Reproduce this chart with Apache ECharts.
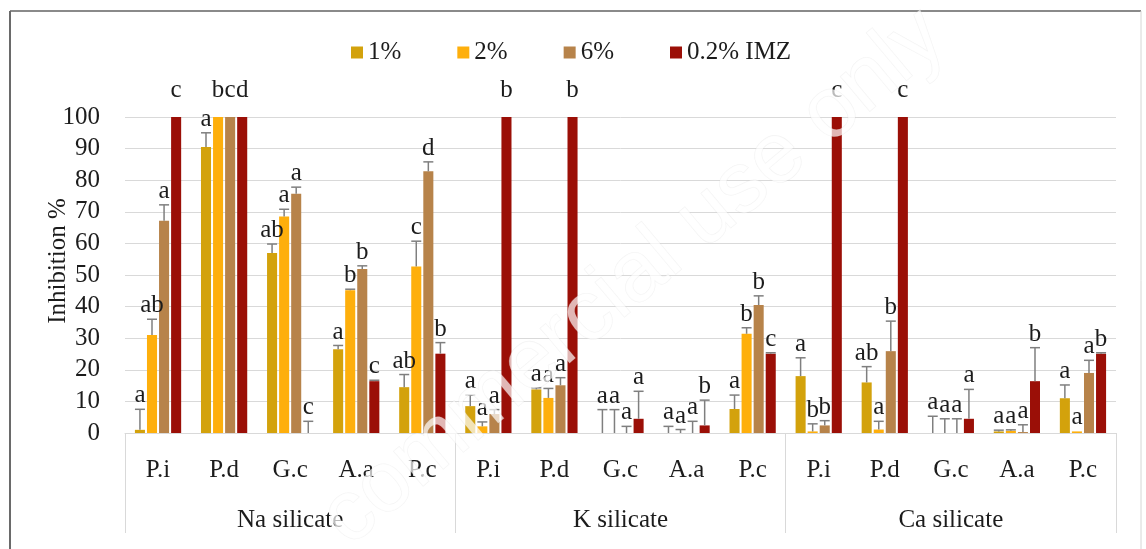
<!DOCTYPE html>
<html>
<head>
<meta charset="utf-8">
<script src="https://cdn.jsdelivr.net/npm/echarts@6/dist/echarts.min.js"></script>
<style>
  html, body { margin: 0; padding: 0; background: #fff; }
  #chart { width: 1146px; height: 549px; }
</style>
</head>
<body>
<div id="chart"></div>
<script>
// Fungi (short names) tested under each silicate salt
const fungi = ['P.i', 'P.d', 'G.c', 'A.a', 'P.c'];
const salts = ['Na silicate', 'K silicate', 'Ca silicate'];
const seriesNames = ['1%', '2%', '6%', '0.2% IMZ'];

// Mean inhibition (%) per treatment: Na (5), K (5), Ca (5)
const inhib1 = [1, 90.5, 57, 26.5, 14.5,   8.5, 13.8, 0, 0, 7.6,     18, 16, 0, 0.5, 11];
const inhib2 = [31, 100, 68.5, 45.2, 52.7, 2.1, 11.1, 0, 0, 31.4,    0.5, 1.1, 0, 0.7, 0.5];
const inhib6 = [67.2, 100, 75.7, 51.9, 82.8, 6, 15.1, 0, 0, 40.5,    2.4, 25.9, 0, 0.3, 19];
const inhibImz = [100, 100, 0, 16.4, 25.1, 100, 100, 4.5, 2.4, 25.1, 100, 100, 4.5, 16.4, 25.1];

// Standard error per treatment
const err1 = [6.5, 4.5, 2.8, 1.2, 4,  3.5, 0.5, 7.4, 2.1, 4.4,  5.8, 5, 5.3, 0.4, 4.2];
const err2 = [5, 4, 2.3, 0.3, 8,      1.4, 3, 7.4, 1.1, 1.9,    2.4, 2.6, 4.5, 0.3, 0];
const err6 = [5, 4, 2.1, 1, 3,        1.4, 2.4, 2.1, 3.7, 2.9,  1.5, 9.5, 4.5, 2.3, 4];
const errImz = [4, 4, 3.7, 0.3, 3.5,  4, 4, 8.7, 8, 0.3,        4, 4, 9.3, 10.6, 0.3];

// Significance letters
const sig1 = ['a', 'a', 'ab', 'a', 'ab',  'a', 'a', 'a', 'a', 'a',  'a', 'ab', 'a', 'a', 'a'];
const sig2 = ['ab', 'b', 'a', 'b', 'c',   'a', 'a', 'a', 'a', 'b',  'b', 'a', 'a', 'a', 'a'];
const sig6 = ['a', 'c', 'a', 'b', 'd',    'a', 'a', 'a', 'a', 'b',  'b', 'b', 'a', 'a', 'a'];
const sigImz = ['c', 'd', 'c', 'c', 'b',  'b', 'b', 'a', 'b', 'c',  'c', 'c', 'a', 'b', 'b'];

const yTicks = { min: 0, max: 100, interval: 10 };

const colors = ['#D3A20C', '#FEAF0C', '#B7834A', '#9B0F07'];
const FONT = '"Liberation Serif", "Times New Roman", serif';
const TEXT = '#1c1c1c';
const GRID_COLOR = '#d9d9d9';
const CAT_GAP = 0.30;
const BAR_GAP = 0.20;

const categories = [];
salts.forEach(() => fungi.forEach(f => categories.push(f)));

const values = [inhib1, inhib2, inhib6, inhibImz];
const errors = [err1, err2, err6, errImz];
const letters = [sig1, sig2, sig6, sigImz];

// one error-bar item per bar
const errItems = [];
values.forEach((vals, s) => {
  vals.forEach((v, c) => {
    errItems.push({ value: [c, s, v, errors[s][c]], letter: letters[s][c] });
  });
});

const chart = echarts.init(document.getElementById('chart'), null, { renderer: 'canvas' });

const barSeries = seriesNames.map((name, s) => ({
  name,
  type: 'bar',
  xAxisIndex: 0,
  data: values[s],
  itemStyle: { color: colors[s] },
  barCategoryGap: (CAT_GAP * 100) + '%',
  barGap: (BAR_GAP * 100) + '%',
  z: 2
}));

const errorSeries = {
  type: 'custom',
  xAxisIndex: 0,
  clip: false,
  silent: true,
  z: 5,
  data: errItems,
  renderItem(params, api) {
    const cat = api.value(0), s = api.value(1), v = api.value(2), e = api.value(3);
    const n = seriesNames.length;
    const band = api.size([1, 0])[0];
    const usable = band * (1 - CAT_GAP);
    const bw = usable / (n + (n - 1) * BAR_GAP);
    const x = api.coord([cat, 0])[0] - usable / 2 + s * bw * (1 + BAR_GAP) + bw / 2;
    const yBar = api.coord([cat, v])[1];
    const shown = Math.min(v + e, yTicks.max);
    const yCap = api.coord([cat, shown])[1];
    const yLab = api.coord([cat, v + e])[1];
    const children = [];
    if (v + e > v && v < yTicks.max) {
      const lineStyle = { stroke: '#7f7f7f', lineWidth: 1.5 };
      children.push({ type: 'line', shape: { x1: x, y1: yBar, x2: x, y2: yCap }, style: lineStyle });
      if (v + e <= yTicks.max) {
        children.push({ type: 'line', shape: { x1: x - 5, y1: yCap, x2: x + 5, y2: yCap }, style: lineStyle });
      }
    }
    children.push({
      type: 'text',
      x: x,
      y: yLab - 1,
      style: {
        text: errItems[params.dataIndex].letter,
        font: '25px ' + FONT,
        fill: TEXT,
        textAlign: 'center',
        textVerticalAlign: 'bottom'
      }
    });
    return { type: 'group', children };
  }
};

const option = {
  backgroundColor: '#ffffff',
  animation: false,
  legend: {
    data: seriesNames,
    left: 346,
    top: 35,
    itemWidth: 12,
    itemHeight: 12,
    itemGap: 56,
    icon: 'rect',
    textStyle: { fontFamily: FONT, fontSize: 25, color: TEXT }
  },
  grid: { left: 125, right: 30, top: 117, bottom: 116 },
  xAxis: [
    {
      type: 'category',
      data: categories,
      position: 'bottom',
      axisLine: { show: true, lineStyle: { color: GRID_COLOR, width: 1 } },
      axisTick: { show: false },
      axisLabel: { interval: 0, margin: 25, fontFamily: FONT, fontSize: 25, color: TEXT }
    },
    {
      type: 'category',
      data: salts,
      position: 'bottom',
      axisLine: { show: false },
      axisTick: { show: true, length: 100, lineStyle: { color: GRID_COLOR, width: 1 } },
      axisLabel: { interval: 0, margin: 75, fontFamily: FONT, fontSize: 25, color: TEXT },
      splitLine: { show: false }
    }
  ],
  yAxis: {
    type: 'value',
    min: yTicks.min,
    max: yTicks.max,
    interval: yTicks.interval,
    name: 'Inhibition %',
    nameLocation: 'middle',
    nameGap: 54,
    nameRotate: 90,
    nameMoveOverlap: false,
    nameTextStyle: { fontFamily: FONT, fontSize: 25, color: TEXT, padding: [0, 0, 0, 28] },
    axisLine: { show: false },
    axisTick: { show: false },
    axisLabel: { margin: 25, fontFamily: FONT, fontSize: 25, color: TEXT },
    splitLine: { show: true, lineStyle: { color: GRID_COLOR, width: 1 } }
  },
  series: [...barSeries, errorSeries],
  graphic: [
    // chart frame
    { type: 'line', shape: { x1: 10, y1: 11, x2: 1141, y2: 11 }, style: { stroke: '#8a8a8a', lineWidth: 2 }, z: 10 },
    { type: 'line', shape: { x1: 10, y1: 11, x2: 10, y2: 560 }, style: { stroke: '#6a6a6a', lineWidth: 2 }, z: 10 },
    { type: 'line', shape: { x1: 1141, y1: 11, x2: 1141, y2: 560 }, style: { stroke: '#d6d6d6', lineWidth: 1 }, z: 10 },
    // diagonal watermark
    {
      type: 'text',
      x: 634,
      y: 278,
      rotation: 40 * Math.PI / 180,
      z: 100,
      silent: true,
      style: {
        text: 'commercial use only',
        font: '86px "Liberation Sans", Arial, sans-serif',
        fill: 'rgba(255,255,255,0.7)',
        stroke: 'rgba(200,200,200,0.22)',
        lineWidth: 1,
        textAlign: 'center',
        textVerticalAlign: 'middle'
      }
    }
  ]
};

chart.setOption(option);
</script>
</body>
</html>
